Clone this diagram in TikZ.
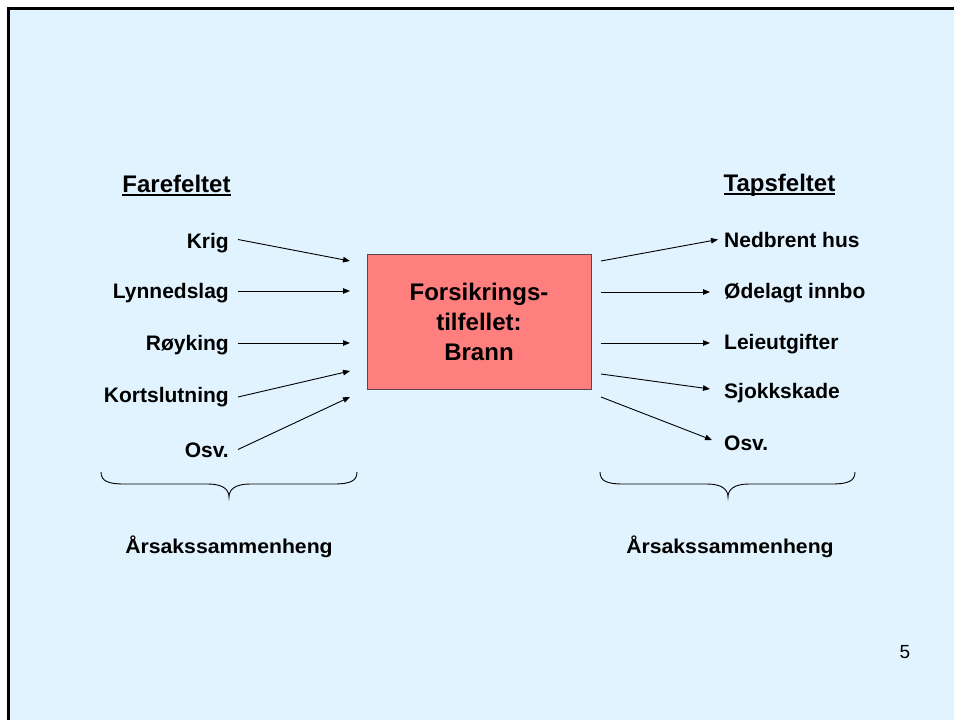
\documentclass[tikz,border=0pt]{standalone}
\usepackage{fontspec}
\setmainfont{Liberation Sans}
\usetikzlibrary{arrows.meta}

\definecolor{slidebg}{HTML}{E1F3FE}
\definecolor{firefill}{HTML}{FF7F7F}
\definecolor{fireline}{HTML}{5A4848}

\tikzset{
  lab/.style={font=\fontsize{21}{25}\selectfont\bfseries, inner sep=0pt,
              text height=15pt, text depth=0pt},
  head/.style={font=\fontsize{24}{28}\selectfont\bfseries, inner sep=0pt,
              text height=17pt, text depth=0pt},
  foot/.style={font=\fontsize{20}{24}\selectfont\bfseries, inner sep=0pt,
              text height=14pt, text depth=0pt},
  firebox/.style={draw=fireline, line width=0.9pt, fill=firefill,
              minimum width=224pt, minimum height=135pt, inner sep=0pt,
              align=center, font=\fontsize{24}{30}\selectfont\bfseries},
  link/.style={line width=0.9pt, -{Triangle[length=7pt,width=5.5pt]}},
  curly/.style={line width=0.9pt},
}

\begin{document}
\begin{tikzpicture}[x=1pt,y=-1pt]
  \useasboundingbox (0,0) rectangle (954,720);
  % slide background and frame
  \fill[white] (0,0) rectangle (954,720);
  \fill[slidebg] (8.5,8.5) rectangle (954,720);
  \draw[line width=3pt] (8.5,720) -- (8.5,8.5) -- (954,8.5);

  % column headings
  \node[head] (fare) at (176.5,184) {Farefeltet};
  \node[head] (taps) at (779.5,183) {Tapsfeltet};
  \draw[line width=1.5pt] ([yshift=-2.5pt]fare.south west) -- ([yshift=-2.5pt]fare.south east);
  \draw[line width=1.5pt] ([yshift=-2.5pt]taps.south west) -- ([yshift=-2.5pt]taps.south east);

  % central event
  \node[firebox] (fire) at (479,321.5) {Forsikrings-\\tilfellet:\\Brann};

  % hazards
  \node[lab, anchor=east] (krig) at (229,240.5) {Krig};
  \node[lab, anchor=east] (lynn) at (229,291) {Lynnedslag};
  \node[lab, anchor=east] (royk) at (229,343) {Røyking};
  \node[lab, anchor=east] (kort) at (229,395) {Kortslutning};
  \node[lab, anchor=east] (osvl) at (229,449.5) {Osv.};

  % losses
  \node[lab, anchor=west] (ned)   at (724,239.5) {Nedbrent hus};
  \node[lab, anchor=west] (oed)   at (724,291) {Ødelagt innbo};
  \node[lab, anchor=west] (leie)  at (724,342) {Leieutgifter};
  \node[lab, anchor=west] (sjokk) at (724,391) {Sjokkskade};
  \node[lab, anchor=west] (osvr)  at (724,443) {Osv.};

  % arrow ends beside the box
  \coordinate (in1) at (350,261);
  \coordinate (in2) at (350,291);
  \coordinate (in3) at (350,343);
  \coordinate (in4) at (350,371);
  \coordinate (in5) at (350,397);
  \coordinate (out1) at (601,261);
  \coordinate (out2) at (601,292);
  \coordinate (out3) at (601,343);
  \coordinate (out4) at (601,374);
  \coordinate (out5) at (601,397);

  \draw[link] ([xshift=9pt,yshift=1pt]krig.east) -- (in1);
  \draw[link] ([xshift=9pt]lynn.east) -- (in2);
  \draw[link] ([xshift=9pt]royk.east) -- (in3);
  \draw[link] ([xshift=9pt,yshift=-2pt]kort.east) -- (in4);
  \draw[link] ([xshift=9pt]osvl.east) -- (in5);

  \draw[link] (out1) -- ([xshift=-6pt]ned.west);
  \draw[link] (out2) -- ([xshift=-14pt,yshift=-1pt]oed.west);
  \draw[link] (out3) -- ([xshift=-14pt,yshift=-1pt]leie.west);
  \draw[link] (out4) -- ([xshift=-14pt,yshift=2pt]sjokk.west);
  \draw[link] (out5) -- ([xshift=-12pt,yshift=3pt]osvr.west);

  % braces
  \draw[curly] (101,472) .. controls (101,481) and (108,484) .. (124,484)
    -- (208,484) .. controls (222,484) and (229,489) .. (229,497)
    .. controls (229,489) and (236,484) .. (250,484)
    -- (334,484) .. controls (350,484) and (357,481) .. (357,472);
  \draw[curly] (600,472) .. controls (600,481) and (607,484) .. (623,484)
    -- (707,484) .. controls (721,484) and (728,489) .. (728,497)
    .. controls (728,489) and (735,484) .. (749,484)
    -- (832,484) .. controls (848,484) and (855,481) .. (855,472);

  % captions under the braces
  \node[foot] (aarl) at (229,546.5) {\scalebox{1.06}[1]{Årsakssammenheng}};
  \node[foot] (aarr) at (730,546.5) {\scalebox{1.06}[1]{Årsakssammenheng}};

  % slide number
  \node[font=\fontsize{19}{22}\selectfont, inner sep=0pt] (num) at (905,652) {5};
\end{tikzpicture}
\end{document}
